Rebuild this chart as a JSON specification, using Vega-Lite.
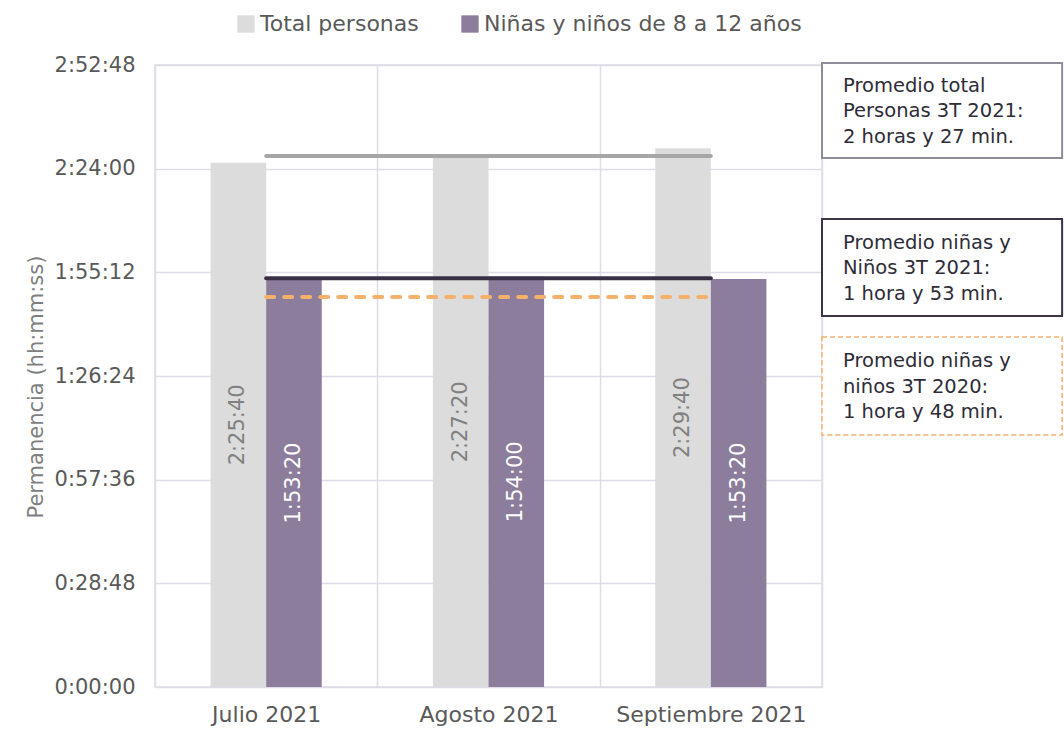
{
  "$schema": "https://vega.github.io/schema/vega-lite/v6.json",
  "autosize": {"type": "none"},
  "width": 667,
  "height": 622,
  "padding": {"left": 155, "top": 65, "right": 242, "bottom": 42},
  "background": "white",
  "config": {
    "font": "DejaVu Sans",
    "view": {"stroke": "#e0dbe8", "strokeWidth": 1.5},
    "axis": {"gridColor": "#e0dbe8", "gridWidth": 1.5, "ticks": false, "domain": false, "labelColor": "#595959", "labelFontSize": 21}
  },
  "layer": [
    {
      "data": {
        "values": [
          {"mes": "Julio 2021", "grupo": "Total personas", "s": 8740},
          {"mes": "Julio 2021", "grupo": "Niñas y niños de 8 a 12 años", "s": 6800},
          {"mes": "Agosto 2021", "grupo": "Total personas", "s": 8840},
          {"mes": "Agosto 2021", "grupo": "Niñas y niños de 8 a 12 años", "s": 6840},
          {"mes": "Septiembre 2021", "grupo": "Total personas", "s": 8980},
          {"mes": "Septiembre 2021", "grupo": "Niñas y niños de 8 a 12 años", "s": 6800}
        ]
      },
      "layer": [
        {
          "mark": {"type": "bar"},
          "encoding": {
            "x": {
              "field": "mes", "type": "nominal",
              "scale": {"domain": ["Julio 2021", "Agosto 2021", "Septiembre 2021"], "paddingInner": 0, "paddingOuter": 0},
              "axis": {"title": null, "tickBand": "extent", "grid": true, "labelAngle": 0, "labelPadding": 17, "labelFontSize": 22, "labelLimit": 0}
            },
            "xOffset": {
              "field": "grupo", "type": "nominal",
              "scale": {"domain": ["Total personas", "Niñas y niños de 8 a 12 años"], "paddingInner": 0, "paddingOuter": 1}
            },
            "y": {
              "field": "s", "type": "quantitative",
              "scale": {"domain": [0, 10368], "nice": false},
              "axis": {
                "title": "Permanencia (hh:mm:ss)",
                "values": [0, 1728, 3456, 5184, 6912, 8640, 10368],
                "labelExpr": "utcFormat(datum.value*1000, '%-H:%M:%S')",
                "labelPadding": 20,
                "titleFontSize": 21, "titleFontWeight": "normal", "titleColor": "#7f7f7f",
                "titleAngle": -90, "titleX": -113, "titleY": 453, "titleAlign": "left", "titleBaseline": "alphabetic"
              }
            },
            "color": {
              "field": "grupo", "type": "nominal",
              "scale": {"domain": ["Total personas", "Niñas y niños de 8 a 12 años"], "range": ["#dcdcdc", "#8b7d9b"]},
              "legend": {
                "title": null, "orient": "none", "legendX": 80, "legendY": -52, "direction": "horizontal",
                "symbolType": "square", "symbolSize": 300, "symbolStrokeWidth": 0,
                "labelFontSize": 22, "labelColor": "#595959", "labelOffset": 3, "columnPadding": 40, "labelLimit": 0
              }
            }
          }
        },
        {
          "data": {"values": [{"ini": "Julio 2021", "fin": "Septiembre 2021", "v": 8853}]},
          "mark": {"type": "rule", "stroke": "#a6a6a6", "strokeWidth": 4, "strokeCap": "round"},
          "encoding": {
            "x": {"field": "ini", "type": "nominal"},
            "x2": {"field": "fin"},
            "y": {"field": "v", "type": "quantitative"}
          }
        },
        {
          "data": {"values": [{"ini": "Julio 2021", "fin": "Septiembre 2021", "v": 6813}]},
          "mark": {"type": "rule", "stroke": "#3a3045", "strokeWidth": 4, "strokeCap": "round"},
          "encoding": {
            "x": {"field": "ini", "type": "nominal"},
            "x2": {"field": "fin"},
            "y": {"field": "v", "type": "quantitative"}
          }
        },
        {
          "data": {"values": [{"ini": "Julio 2021", "fin": "Septiembre 2021", "v": 6500}]},
          "mark": {"type": "rule", "stroke": "#f5b06c", "strokeWidth": 4, "strokeCap": "round", "strokeDash": [8, 10]},
          "encoding": {
            "x": {"field": "ini", "type": "nominal"},
            "x2": {"field": "fin"},
            "y": {"field": "v", "type": "quantitative"}
          }
        },
        {
          "transform": [
            {"calculate": "datum.s/2", "as": "mid"},
            {"calculate": "utcFormat(datum.s*1000, '%-H:%M:%S')", "as": "etiqueta"}
          ],
          "mark": {"type": "text", "angle": 270, "fontSize": 21, "align": "center", "baseline": "middle"},
          "encoding": {
            "x": {"field": "mes", "type": "nominal"},
            "xOffset": {"field": "grupo", "type": "nominal"},
            "y": {"field": "mid", "type": "quantitative"},
            "text": {"field": "etiqueta"},
            "color": {"condition": {"test": "datum.grupo === 'Total personas'", "value": "#808080"}, "value": "#ffffff"}
          }
        }
      ]
    },
    {
      "data": {
        "values": [
          {"caja": 1, "texto": "Promedio total\nPersonas 3T 2021:\n2 horas y 27 min."},
          {"caja": 2, "texto": "Promedio niñas y\nNiños 3T 2021:\n1 hora y 53 min."},
          {"caja": 3, "texto": "Promedio niñas y\nniños 3T 2020:\n1 hora y 48 min."}
        ]
      },
      "layer": [
        {
          "transform": [{"filter": "datum.caja === 1"}],
          "mark": {"type": "rect", "fill": "white", "stroke": "#8e8c99", "strokeWidth": 2},
          "encoding": {
            "x": {"datum": 1.0, "type": "quantitative", "scale": {"domain": [0, 1]}, "axis": null},
            "x2": {"datum": 1.36},
            "y": {"datum": 10401, "type": "quantitative"},
            "y2": {"datum": 8818}
          }
        },
        {
          "transform": [{"filter": "datum.caja === 2"}],
          "mark": {"type": "rect", "fill": "white", "stroke": "#3a3446", "strokeWidth": 2},
          "encoding": {
            "x": {"datum": 1.0, "type": "quantitative"},
            "x2": {"datum": 1.36},
            "y": {"datum": 7801, "type": "quantitative"},
            "y2": {"datum": 6184}
          }
        },
        {
          "transform": [{"filter": "datum.caja === 3"}],
          "mark": {"type": "rect", "fill": "white", "stroke": "#f5b06c", "strokeWidth": 1.5, "strokeDash": [5, 3]},
          "encoding": {
            "x": {"datum": 1.0, "type": "quantitative"},
            "x2": {"datum": 1.36},
            "y": {"datum": 5834, "type": "quantitative"},
            "y2": {"datum": 4201}
          }
        },
        {
          "transform": [{"filter": "datum.caja === 1"}],
          "mark": {"type": "text", "align": "left", "baseline": "middle", "fontSize": 19.5, "lineHeight": 25.5, "lineBreak": "\n", "color": "#2e2c38"},
          "encoding": {
            "x": {"datum": 1.0315, "type": "quantitative"},
            "y": {"datum": 10018, "type": "quantitative"},
            "text": {"field": "texto"}
          }
        },
        {
          "transform": [{"filter": "datum.caja === 2"}],
          "mark": {"type": "text", "align": "left", "baseline": "middle", "fontSize": 19.5, "lineHeight": 25.5, "lineBreak": "\n", "color": "#2e2c38"},
          "encoding": {
            "x": {"datum": 1.0315, "type": "quantitative"},
            "y": {"datum": 7401, "type": "quantitative"},
            "text": {"field": "texto"}
          }
        },
        {
          "transform": [{"filter": "datum.caja === 3"}],
          "mark": {"type": "text", "align": "left", "baseline": "middle", "fontSize": 19.5, "lineHeight": 25.5, "lineBreak": "\n", "color": "#2e2c38"},
          "encoding": {
            "x": {"datum": 1.0315, "type": "quantitative"},
            "y": {"datum": 5434, "type": "quantitative"},
            "text": {"field": "texto"}
          }
        }
      ]
    }
  ],
  "resolve": {"scale": {"x": "independent"}}
}
